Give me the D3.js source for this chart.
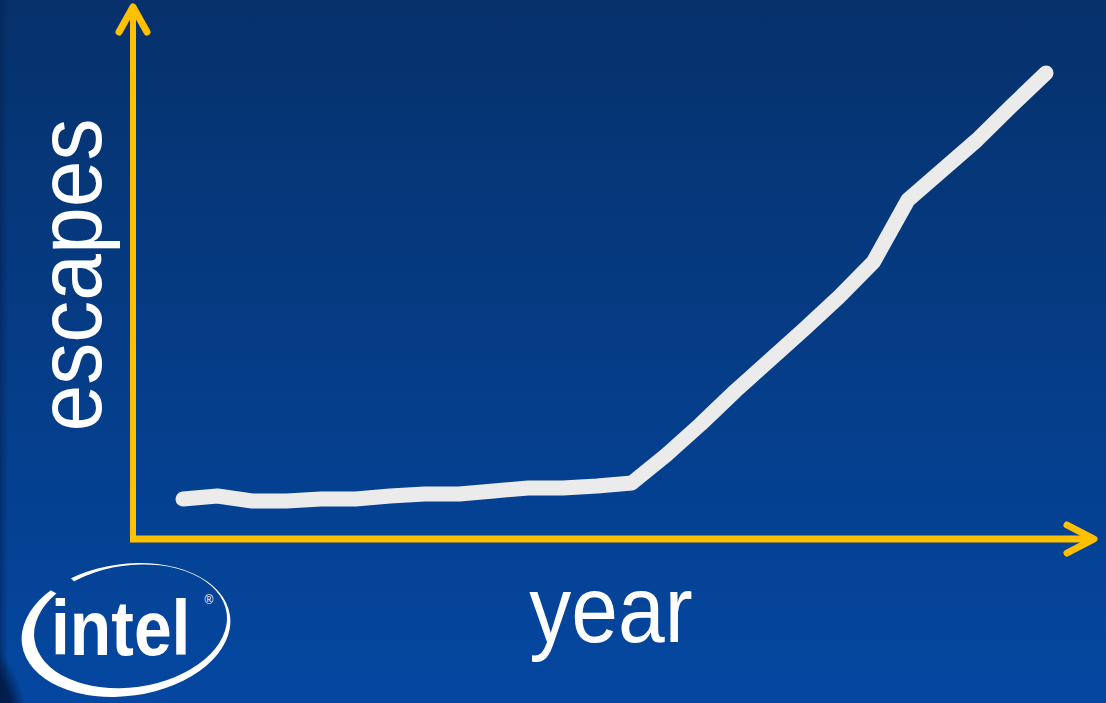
<!DOCTYPE html>
<html>
<head>
<meta charset="utf-8">
<script src="https://cdn.jsdelivr.net/npm/d3@7/dist/d3.min.js"></script>
<style>
html,body{margin:0;padding:0;background:#06336e;}
svg{display:block;}
</style>
</head>
<body>
<svg id="chart" width="1106" height="703"></svg>
<script>
// ---- data (arbitrary units) ----
const years = [1985,1986,1987,1988,1989,1990,1991,1992,1993,1994,1995,1996,1997,
               1998,1999,2000,2001,2002,2003,2004,2005,2006,2007,2008,2009,2010];
const escapes = [8.0,8.6,7.6,7.6,8.0,8.0,8.6,9.0,9.0,9.6,10.2,10.2,10.6,
                 11.2,16.8,23.0,29.6,35.8,42.0,48.4,55.4,67.8,73.8,79.8,86.6,93.2];
const xLabel = "year";
const yLabel = "escapes";

const W = 1106, H = 703;
const svg = d3.select("#chart");
const defs = svg.append("defs");

// background gradient
const bg = defs.append("linearGradient").attr("id","bg").attr("x1",0).attr("y1",0).attr("x2",0).attr("y2",1);
bg.append("stop").attr("offset","0%").attr("stop-color","#06316b");
bg.append("stop").attr("offset","100%").attr("stop-color","#0447a1");
svg.append("rect").attr("width",W).attr("height",H).attr("fill","url(#bg)");
// left edge darker strip
const edge = defs.append("linearGradient").attr("id","edge").attr("x1",0).attr("y1",0).attr("x2",1).attr("y2",0);
edge.append("stop").attr("offset","0%").attr("stop-color","#02214f").attr("stop-opacity",0.55);
edge.append("stop").attr("offset","100%").attr("stop-color","#02214f").attr("stop-opacity",0);
svg.append("rect").attr("x",0).attr("y",0).attr("width",8).attr("height",H).attr("fill","url(#edge)");
// bottom-left corner shadow
const corner = defs.append("radialGradient").attr("id","corner").attr("cx",0.5).attr("cy",0.5).attr("r",0.5);
corner.append("stop").attr("offset","80%").attr("stop-color","#021a45").attr("stop-opacity",0.9);
corner.append("stop").attr("offset","100%").attr("stop-color","#021a45").attr("stop-opacity",0);
svg.append("ellipse").attr("cx",-40).attr("cy",740).attr("rx",70).attr("ry",110).attr("fill","url(#corner)");

// ---- scales ----
const x = d3.scaleLinear().domain([years[0], years[years.length-1]]).range([183, 1046]);
const y = d3.scaleLinear().domain([0, 100]).range([539, 39]);

const axisColor = "#ffc000";
const x0 = 133, yBase = y(0);
const axes = svg.append("g").attr("stroke",axisColor).attr("fill","none").attr("stroke-linecap","round").attr("stroke-linejoin","round");
// vertical axis
axes.append("line").attr("x1",x0).attr("y1",yBase+2).attr("x2",x0).attr("y2",9).attr("stroke-width",6).attr("stroke-linecap","butt");
axes.append("path").attr("d",`M${x0-14},32 L${x0},7 L${x0+14},32`).attr("stroke-width",7);
// horizontal axis
axes.append("line").attr("x1",x0-3).attr("y1",yBase).attr("x2",1092).attr("y2",yBase).attr("stroke-width",7).attr("stroke-linecap","butt");
axes.append("path").attr("d",`M1067,${yBase-14} L1094,${yBase} L1067,${yBase+14}`).attr("stroke-width",7);

// ---- line ----
const line = d3.line().x((d,i)=>x(years[i])).y(d=>y(d));
svg.append("path").datum(escapes).attr("d",line)
  .attr("fill","none").attr("stroke","#ebebeb").attr("stroke-width",15)
  .attr("stroke-linecap","round").attr("stroke-linejoin","round");

// ---- labels ----
svg.append("text").text(xLabel)
  .attr("transform","translate(611,642) scale(1,1.12)")
  .attr("text-anchor","middle").attr("fill","#ffffff")
  .attr("font-family","Liberation Sans, Arial, sans-serif").attr("font-size",84);
svg.append("text").text(yLabel)
  .attr("transform","translate(101,275) rotate(-90) scale(1,1.08)")
  .attr("text-anchor","middle").attr("fill","#ffffff")
  .attr("font-family","Liberation Sans, Arial, sans-serif").attr("font-size",84);

// ---- intel logo ----
const logo = svg.append("g");
const mask = defs.append("mask").attr("id","swooshMask");
mask.append("rect").attr("x",0).attr("y",0).attr("width",W).attr("height",H).attr("fill","#fff");
mask.append("path").attr("d","M126,632 L30,560 L70,560 Z").attr("fill","#000");
function ell(cx,cy,rx,ry){return `M${cx-rx},${cy} a${rx},${ry} 0 1,0 ${2*rx},0 a${rx},${ry} 0 1,0 ${-2*rx},0 Z`;}
logo.append("path")
  .attr("d", ell(126,630,105,66) + ell(131,627,97,61))
  .attr("fill-rule","evenodd").attr("fill","#ffffff")
  .attr("transform","rotate(-8,126,630)")
  .attr("mask","url(#swooshMask)");
logo.append("text").text("intel")
  .attr("transform","translate(51,655) scale(0.87,1)")
  .attr("fill","#ffffff").attr("font-weight","bold")
  .attr("font-family","Liberation Sans, Arial, sans-serif").attr("font-size",78);
logo.append("text").text("®")
  .attr("x",209).attr("y",604).attr("text-anchor","middle")
  .attr("fill","#ffffff").attr("font-family","Liberation Sans, Arial, sans-serif").attr("font-size",12);
</script>
</body>
</html>
